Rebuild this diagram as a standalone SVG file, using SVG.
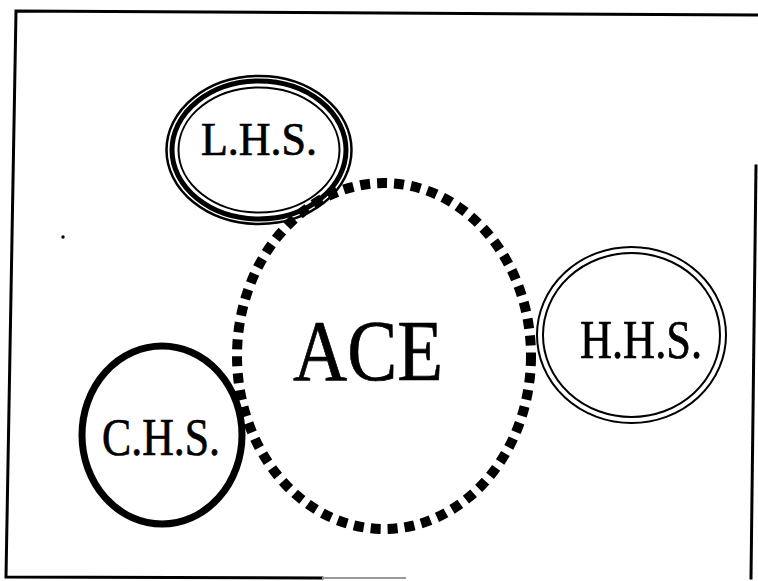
<svg xmlns="http://www.w3.org/2000/svg" width="758" height="581" viewBox="0 0 758 581">
<style>
.lbl{font-family:"Liberation Serif","Times New Roman",serif;fill:#000;stroke:#000;stroke-width:0.7;text-anchor:middle}
.ring{fill:none;stroke:#000}
.frame{fill:none;stroke:#000;stroke-width:3;stroke-linecap:square}
</style>
<rect width="758" height="581" fill="#fff"/>
<g id="frame">
<polyline class="frame" points="757,15 16,11 6,577 322,578"/>
<line x1="322" y1="578" x2="406" y2="578" stroke="#999" stroke-width="2"/>
<line class="frame" x1="756" y1="166" x2="751" y2="578"/>
<circle cx="63" cy="237" r="1.7" fill="#000"/>
</g>
<g id="connectors"></g>
<g id="ace">
<ellipse class="ring" cx="384" cy="356" rx="147" ry="173" stroke-width="10" stroke-dasharray="10 7"/>
<text class="lbl" x="368" y="380" font-size="86" textLength="150" lengthAdjust="spacingAndGlyphs">ACE</text>
</g>
<g id="lhs">
<ellipse class="ring" cx="259" cy="150" rx="92.5" ry="74" stroke-width="2.5"/>
<ellipse class="ring" cx="259" cy="150" rx="87" ry="69" stroke-width="5"/>
<ellipse class="ring" cx="259" cy="150" rx="80.5" ry="62.5" stroke-width="2"/>
<text class="lbl" x="259" y="155" font-size="47" textLength="116" lengthAdjust="spacingAndGlyphs">L.H.S.</text>
</g>
<g id="hhs">
<ellipse class="ring" cx="631.5" cy="335" rx="94.5" ry="88" stroke-width="2"/>
<ellipse class="ring" cx="631.5" cy="335" rx="88.5" ry="82" stroke-width="2"/>
<text class="lbl" x="641" y="358" font-size="54" textLength="122" lengthAdjust="spacingAndGlyphs">H.H.S.</text>
</g>
<g id="chs">
<ellipse class="ring" cx="162" cy="435" rx="80" ry="89" stroke-width="7"/>
<text class="lbl" x="161" y="455" font-size="52" textLength="118" lengthAdjust="spacingAndGlyphs">C.H.S.</text>
</g>
</svg>
